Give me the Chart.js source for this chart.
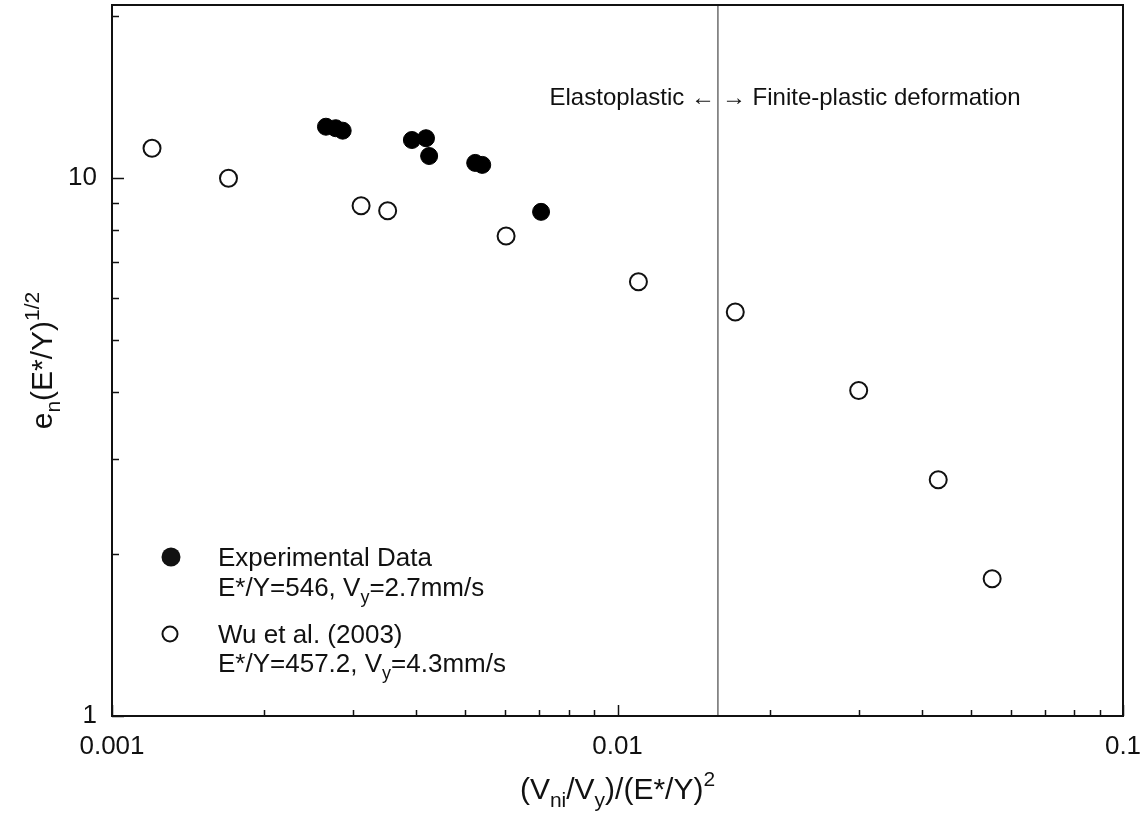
<!DOCTYPE html>
<html>
<head>
<meta charset="utf-8">
<script src="https://cdn.jsdelivr.net/npm/chart.js@4/dist/chart.umd.min.js"></script>
<style>
html, body { margin: 0; padding: 0; background: #fff; }
canvas { display: block; }
</style>
</head>
<body>
<canvas id="chart" width="1146" height="821"></canvas>
<script>
// experimental data (filled circles)
const expX = [0.00265, 0.00277, 0.00286, 0.00392, 0.00418, 0.00424, 0.00523, 0.0054, 0.00706];
const expY = [12.47, 12.39, 12.26, 11.78, 11.87, 11.00, 10.68, 10.59, 8.66];

// Wu et al. (2003) (open circles)
const wuX = [0.0012, 0.0017, 0.00311, 0.00351, 0.00602, 0.0110, 0.0171, 0.0300, 0.0431, 0.0551];
const wuY = [11.37, 10.0, 8.89, 8.70, 7.81, 6.42, 5.64, 4.03, 2.75, 1.80];

// elastoplastic / finite-plastic boundary
const boundaryX = 0.0158;
const annotY = 13.7;

// axes
const xRange = [0.001, 0.1];
const yRange = [1, 21];
const xTicks = [0.001, 0.002, 0.003, 0.004, 0.005, 0.006, 0.007, 0.008, 0.009,
                0.01, 0.02, 0.03, 0.04, 0.05, 0.06, 0.07, 0.08, 0.09, 0.1];
const yTicks = [1, 2, 3, 4, 5, 6, 7, 8, 9, 10, 20];
const xLabels = { 0.001: '0.001', 0.01: '0.01', 0.1: '0.1' };
const yLabels = { 1: '1', 10: '10' };

const FONT = 'Arial, "Liberation Sans", sans-serif';

function toPts(xs, ys) {
  return xs.map((x, i) => ({ x, y: ys[i] }));
}

// text with sub/superscripts: parts = [[text, 'n'|'sub'|'sup'], ...]
function richWidth(ctx, parts, size) {
  let w = 0;
  parts.forEach(([t, m]) => {
    ctx.font = `${m === 'n' ? size : Math.round(size * 0.7)}px ${FONT}`;
    w += ctx.measureText(t).width;
  });
  return w;
}

function drawRich(ctx, parts, x, y, size, align) {
  let cx = x;
  if (align === 'center') cx = x - richWidth(ctx, parts, size) / 2;
  if (align === 'right') cx = x - richWidth(ctx, parts, size);
  ctx.textBaseline = 'alphabetic';
  ctx.textAlign = 'left';
  parts.forEach(([t, m]) => {
    const s = m === 'n' ? size : Math.round(size * 0.7);
    ctx.font = `${s}px ${FONT}`;
    let dy = 0;
    if (m === 'sub') dy = size * 0.28;
    if (m === 'sup') dy = -size * 0.42;
    ctx.fillText(t, cx, y + dy);
    cx += ctx.measureText(t).width;
  });
}

const decorPlugin = {
  id: 'decor',
  afterDraw(chart) {
    const { ctx, chartArea: a, scales } = chart;
    const xs = scales.x, ys = scales.y;
    ctx.save();
    ctx.fillStyle = '#111';
    ctx.strokeStyle = '#111';

    // inward ticks
    ctx.lineWidth = 1.5;
    xTicks.forEach((v) => {
      const px = Math.round(xs.getPixelForValue(v)) + 0.5;
      const len = xLabels[v] ? 11 : 6;
      ctx.beginPath();
      ctx.moveTo(px, a.bottom);
      ctx.lineTo(px, a.bottom - len);
      ctx.stroke();
    });
    yTicks.forEach((v) => {
      const py = Math.round(ys.getPixelForValue(v)) + 0.5;
      const len = yLabels[v] ? 12 : 7;
      ctx.beginPath();
      ctx.moveTo(a.left, py);
      ctx.lineTo(a.left + len, py);
      ctx.stroke();
    });

    // frame
    ctx.lineWidth = 2;
    ctx.strokeRect(a.left, a.top, a.right - a.left, a.bottom - a.top);

    // regime annotation
    const bx = xs.getPixelForValue(boundaryX);
    const ay = ys.getPixelForValue(annotY);
    ctx.font = `24px ${FONT}`;
    ctx.textBaseline = 'alphabetic';
    ctx.textAlign = 'right';
    ctx.fillText('Elastoplastic \u2190', bx - 3, ay);
    ctx.textAlign = 'left';
    ctx.fillText('\u2192 Finite-plastic deformation', bx + 4, ay);

    // legend
    const lx = a.left + 59, tx = a.left + 106;
    const l1 = a.bottom - 159, l2 = a.bottom - 82;
    ctx.beginPath();
    ctx.arc(lx, l1, 9.5, 0, Math.PI * 2);
    ctx.fill();
    ctx.lineWidth = 2;
    ctx.beginPath();
    ctx.arc(lx - 1, l2, 7.5, 0, Math.PI * 2);
    ctx.stroke();
    drawRich(ctx, [['Experimental Data', 'n']], tx, l1 + 9, 26, 'left');
    drawRich(ctx, [['E*/Y=546, V', 'n'], ['y', 'sub'], ['=2.7mm/s', 'n']], tx, l1 + 39, 26, 'left');
    drawRich(ctx, [['Wu et al. (2003)', 'n']], tx, l2 + 9, 26, 'left');
    drawRich(ctx, [['E*/Y=457.2, V', 'n'], ['y', 'sub'], ['=4.3mm/s', 'n']], tx, l2 + 38, 26, 'left');

    // axis titles
    const midX = (a.left + a.right) / 2;
    drawRich(ctx, [['(V', 'n'], ['ni', 'sub'], ['/V', 'n'], ['y', 'sub'], [')/(E*/Y)', 'n'], ['2', 'sup']],
      midX, a.bottom + 83, 30, 'center');

    const midY = (a.top + a.bottom) / 2;
    ctx.translate(52, midY);
    ctx.rotate(-Math.PI / 2);
    drawRich(ctx, [['e', 'n'], ['n', 'sub'], ['(E*/Y)', 'n'], ['1/2', 'sup']], 0, 0, 30, 'center');
    ctx.restore();
  }
};

new Chart(document.getElementById('chart'), {
  type: 'scatter',
  data: {
    datasets: [
      {
        label: 'boundary',
        data: [{ x: boundaryX, y: yRange[0] }, { x: boundaryX, y: yRange[1] }],
        showLine: true,
        borderColor: '#555',
        borderWidth: 1.3,
        pointRadius: 0,
        order: 3
      },
      {
        label: 'Wu et al. (2003)',
        data: toPts(wuX, wuY),
        pointRadius: 8.5,
        pointBackgroundColor: '#fff',
        pointBorderColor: '#111',
        pointBorderWidth: 2,
        order: 2
      },
      {
        label: 'Experimental Data',
        data: toPts(expX, expY),
        pointRadius: 8.5,
        pointBackgroundColor: '#000',
        pointBorderColor: '#000',
        pointBorderWidth: 1,
        order: 1
      }
    ]
  },
  options: {
    responsive: false,
    animation: false,
    layout: { autoPadding: false, padding: { top: 5, right: 23, left: 0, bottom: 0 } },
    plugins: {
      legend: { display: false },
      tooltip: { enabled: false }
    },
    scales: {
      x: {
        type: 'logarithmic',
        min: xRange[0],
        max: xRange[1],
        afterBuildTicks: (s) => { s.ticks = xTicks.map((v) => ({ value: v })); },
        afterFit: (s) => { s.height = 105; s.paddingLeft = 0; s.paddingRight = 0; },
        grid: { display: false, drawTicks: false },
        border: { display: false },
        ticks: {
          autoSkip: false,
          maxRotation: 0,
          padding: 15,
          color: '#111',
          font: { family: FONT, size: 26 },
          callback: (v) => xLabels[v] || ''
        }
      },
      y: {
        type: 'logarithmic',
        min: yRange[0],
        max: yRange[1],
        afterBuildTicks: (s) => { s.ticks = yTicks.map((v) => ({ value: v })); },
        afterFit: (s) => { s.width = 112; s.paddingTop = 0; s.paddingBottom = 0; },
        grid: { display: false, drawTicks: false },
        border: { display: false },
        ticks: {
          autoSkip: false,
          padding: 15,
          color: '#111',
          font: { family: FONT, size: 26 },
          callback: (v) => yLabels[v] || ''
        }
      }
    }
  },
  plugins: [decorPlugin]
});
</script>
</body>
</html>
